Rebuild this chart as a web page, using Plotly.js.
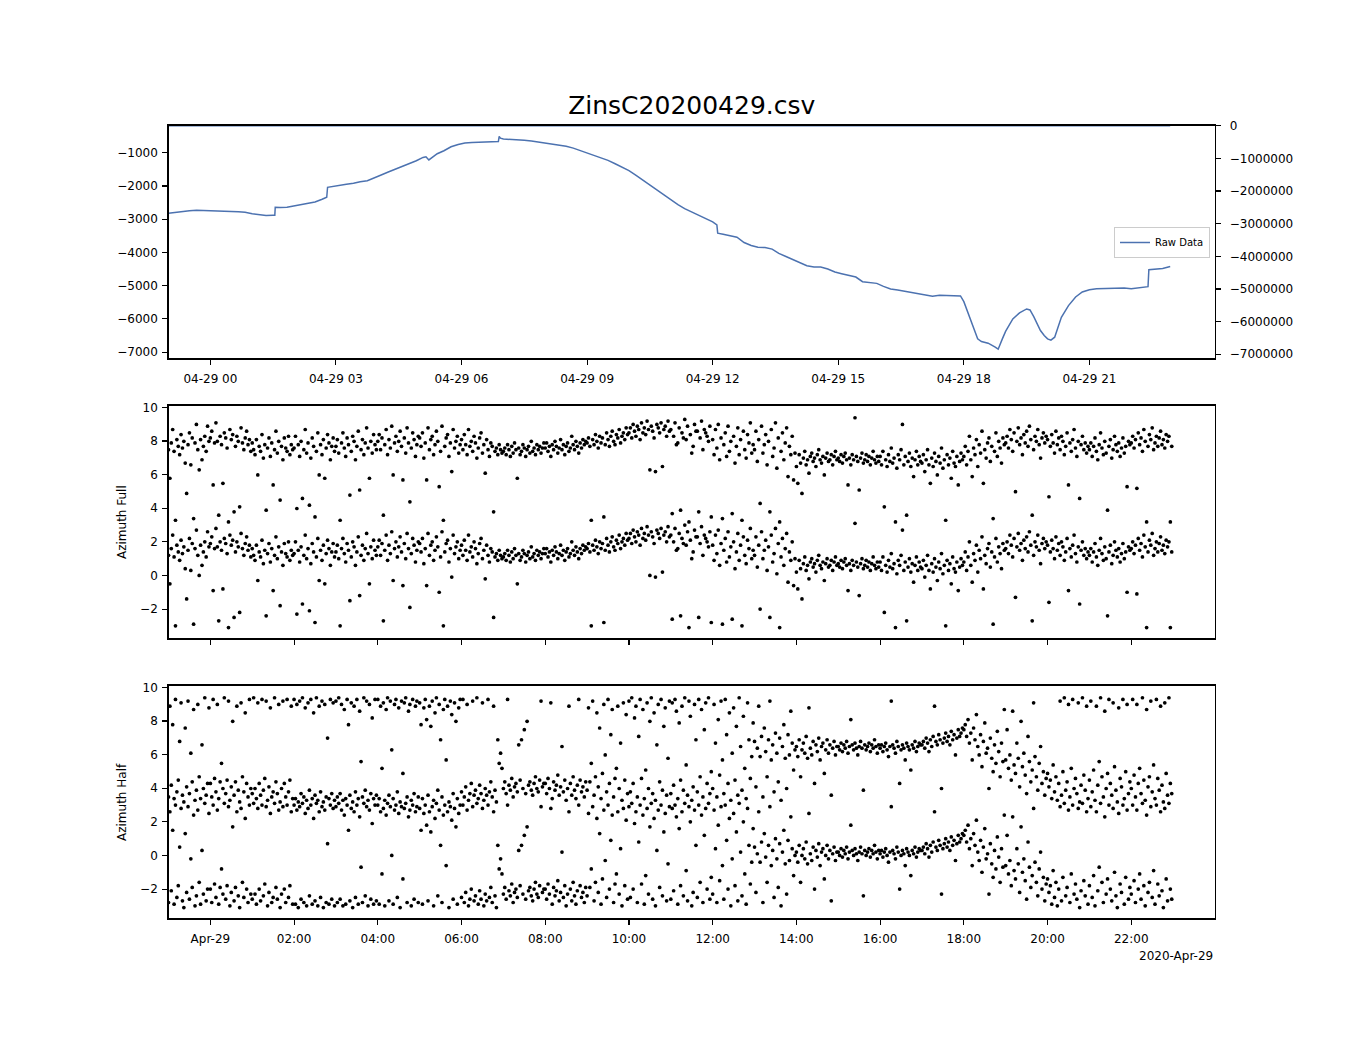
<!DOCTYPE html>
<html><head><meta charset="utf-8">
<script src="https://cdn.plot.ly/plotly-3.0.1.min.js"></script>
<style>html,body{margin:0;padding:0;background:#fff}#chart{width:1350px;height:1050px}</style>
</head><body><div id="chart"></div>
<script>
const titleText = 'ZinsC20200429.csv';
const legendName = 'Raw Data';
const yTitleFull = 'Azimuth Full';
const yTitleHalf = 'Azimuth Half';
const dateLabel = '2020-Apr-29';

// Raw data: hours relative to 2020-04-29 00:00, values (left axis)
const rawHours = [-1.00,-0.83,-0.67,-0.50,-0.33,-0.17,0.00,0.17,0.33,0.50,0.67,0.83,1.00,1.17,1.33,1.50,1.54,1.55,1.67,1.83,
2.00,2.17,2.33,2.50,2.67,2.78,2.80,2.92,3.08,3.25,3.42,3.58,3.75,3.92,4.08,4.25,4.42,4.58,4.75,4.92,
5.08,5.15,5.22,5.33,5.42,5.58,5.75,5.92,6.08,6.25,6.42,6.58,6.75,6.88,6.90,6.93,7.00,7.17,7.33,7.50,
7.67,7.83,8.00,8.17,8.33,8.50,8.67,8.83,9.00,9.17,9.33,9.50,9.67,9.83,10.00,10.17,10.33,10.50,10.67,10.83,
11.00,11.17,11.33,11.50,11.67,11.83,12.00,12.10,12.12,12.25,12.42,12.58,12.75,12.92,13.08,13.25,13.42,13.58,13.75,13.92,
14.08,14.25,14.42,14.58,14.75,14.92,15.08,15.25,15.42,15.58,15.75,15.92,16.08,16.25,16.42,16.58,16.75,16.92,17.08,17.25,
17.42,17.58,17.75,17.92,18.00,18.08,18.17,18.25,18.33,18.42,18.58,18.75,18.82,18.92,19.00,19.17,19.33,19.50,19.58,19.67,
19.75,19.83,19.92,20.00,20.08,20.17,20.25,20.33,20.50,20.67,20.83,21.00,21.17,21.33,21.50,21.67,21.83,22.00,22.17,22.33,
22.40,22.42,22.58,22.75,22.93];
const rawValues = [-2820,-2790,-2760,-2745,-2728,-2740,-2745,-2750,-2760,-2770,-2775,-2790,-2835,-2860,-2885,-2880,-2878,-2640,-2650,-2640,
-2600,-2550,-2530,-2480,-2400,-2340,-2040,-2010,-1990,-1950,-1920,-1870,-1840,-1740,-1670,-1580,-1495,-1420,-1340,-1240,
-1140,-1120,-1215,-1120,-1030,-940,-820,-750,-705,-690,-680,-672,-668,-665,-510,-560,-585,-595,-608,-625,
-648,-680,-700,-735,-770,-805,-860,-930,-1010,-1080,-1140,-1230,-1330,-1420,-1540,-1680,-1820,-1980,-2140,-2280,
-2420,-2560,-2680,-2780,-2880,-2990,-3080,-3170,-3420,-3450,-3500,-3540,-3700,-3790,-3845,-3850,-3900,-4030,-4120,-4220,
-4300,-4400,-4440,-4440,-4500,-4590,-4640,-4700,-4740,-4880,-4900,-4930,-5020,-5100,-5130,-5170,-5200,-5250,-5300,-5320,
-5290,-5290,-5290,-5310,-5480,-5750,-6050,-6350,-6600,-6680,-6730,-6850,-6910,-6600,-6370,-6000,-5820,-5700,-5730,-5930,
-6150,-6350,-6500,-6600,-6640,-6550,-6250,-5950,-5600,-5340,-5190,-5120,-5090,-5080,-5070,-5060,-5070,-5090,-5060,-5030,
-5030,-4520,-4510,-4480,-4420];

// Azimuth samples every 2 minutes starting 2020-04-28 23:00 (values in [-pi, pi])
const sampleStartHour = -1;
const sampleStepMinutes = 2;
const azFull = [
1.2,-0.5,1.6,2.4,1.1,-3.0,1.8,1.4,0.9,2.1,1.3,1.7,0.4,-1.4,1.5,2.2,0.3,1.9,-2.9,1.6,2.7,1.2,0.0,1.8,0.6,1.4,2.0,1.1,2.6,1.7,
1.9,2.3,-0.9,1.6,2.8,1.7,-2.7,2.0,1.5,-0.8,2.2,1.9,1.3,-3.1,2.4,1.8,2.1,-2.5,1.4,2.0,1.7,-2.2,2.5,1.6,1.2,1.9,2.3,1.5,1.8,1.1,
1.6,1.2,0.9,1.8,-0.3,1.4,1.1,2.1,0.7,1.5,-2.4,1.3,1.9,0.8,1.6,-0.9,1.2,2.3,1.0,1.7,-1.8,1.4,0.6,1.9,1.3,1.1,2.0,0.9,1.5,1.2,
1.3,2.0,-2.3,1.5,0.8,1.7,-1.7,1.2,2.4,1.0,1.6,-2.1,0.7,1.9,1.4,-2.8,1.1,2.2,-0.3,1.5,0.9,1.8,-0.5,1.3,2.1,1.6,0.6,1.4,1.9,1.1,
1.4,1.8,1.0,-3.0,1.6,2.2,1.3,0.8,1.9,1.5,-1.5,1.1,2.0,1.7,0.6,1.4,2.3,-1.2,1.2,1.8,0.9,1.6,2.5,1.3,-0.5,1.7,1.0,2.1,1.5,1.2,
1.7,2.1,1.2,1.9,-2.7,1.5,2.4,0.9,1.8,1.3,2.6,-0.3,1.6,2.0,1.1,1.7,2.3,1.4,-0.6,1.9,1.0,2.5,1.6,-1.9,1.3,2.2,1.8,0.8,1.5,2.0,
1.9,1.4,2.2,0.7,1.6,-0.6,2.5,1.2,1.8,2.0,0.9,1.5,2.3,1.7,-1.0,1.1,2.6,-3.0,1.4,1.9,2.1,0.8,1.6,-0.1,2.4,1.3,1.7,2.0,1.0,1.5,
1.8,1.2,2.1,1.5,0.9,2.4,1.4,1.7,1.1,2.0,1.6,0.7,1.3,1.9,2.2,1.0,1.5,-0.2,1.8,1.2,0.8,1.6,1.4,-2.5,1.1,1.3,0.9,1.5,1.2,1.0,
1.1,1.3,0.9,1.5,1.2,0.8,1.4,1.0,1.6,1.2,-0.5,1.3,0.9,1.1,1.5,1.3,0.8,1.2,1.4,1.0,1.7,1.1,1.3,0.9,1.5,1.2,1.4,1.0,1.3,1.6,
1.3,1.6,1.1,1.4,0.8,1.5,1.2,1.7,1.4,1.0,1.3,1.8,1.2,1.5,0.9,1.4,1.6,1.1,1.3,2.0,1.5,1.2,1.7,1.4,1.0,1.6,1.3,1.8,1.5,1.7,
1.6,1.9,1.4,-3.0,1.8,1.5,2.1,1.7,1.3,2.0,1.6,1.9,-2.8,1.5,2.2,1.8,1.4,2.0,2.3,1.7,1.5,2.1,1.9,2.4,1.6,2.0,2.2,1.8,2.5,2.1,
2.2,2.5,1.9,2.7,2.3,2.0,2.6,2.4,1.8,2.8,2.2,2.5,2.1,2.9,2.4,0.0,2.6,2.3,1.9,-0.1,2.7,2.5,2.2,2.8,0.2,2.4,2.6,2.0,2.9,2.3,
2.4,-2.6,2.0,2.8,1.5,1.6,2.5,-2.4,2.2,1.9,3.0,1.8,2.6,-3.1,2.1,1.0,1.4,2.7,2.3,2.3,-2.5,1.9,2.9,1.2,2.4,2.2,2.0,1.7,2.6,-2.8,
1.8,0.9,2.4,1.3,2.7,0.6,1.9,-2.9,1.5,2.2,0.8,2.6,1.1,1.7,-2.6,2.0,0.4,1.4,2.5,0.9,1.8,-3.0,2.3,1.2,0.7,2.1,1.6,2.8,1.0,1.5,
1.2,2.3,0.5,1.8,-2.0,2.6,1.0,1.5,2.1,0.3,1.7,-2.5,2.4,0.8,1.3,2.8,0.1,1.9,-3.1,1.1,2.2,0.6,1.6,2.5,-0.4,1.4,0.9,2.0,-0.6,1.0,
0.2,-0.8,0.9,0.4,-1.4,0.7,1.1,0.3,0.6,-0.2,0.8,1.0,0.5,0.7,0.2,0.9,1.2,0.6,0.4,0.8,-0.3,0.7,1.0,0.5,0.6,0.9,0.3,0.8,1.1,0.6,
0.7,0.5,0.9,0.4,0.8,1.0,0.6,-0.9,0.7,0.3,0.9,0.6,3.1,0.8,0.5,-1.2,0.7,1.0,0.4,0.6,0.9,0.5,0.8,0.3,0.7,1.1,0.6,0.4,0.8,0.5,
0.8,0.3,1.1,-2.2,0.6,0.2,0.9,0.5,1.3,0.4,0.7,-3.1,0.1,0.9,0.6,1.2,2.7,0.3,0.8,-2.7,0.5,1.0,0.2,0.7,-0.4,0.6,1.1,0.3,0.8,0.5,
0.4,0.9,-0.1,0.6,1.2,0.3,-0.8,0.7,0.2,1.0,0.5,-0.3,0.8,0.4,1.3,0.1,0.6,-3.0,0.9,0.3,0.7,-0.5,1.1,0.4,0.2,0.8,-0.9,0.5,1.0,0.6,
0.8,1.4,0.3,1.1,2.0,0.6,-0.4,1.3,0.9,1.8,0.2,1.5,1.0,2.3,-0.8,1.2,0.7,1.6,1.9,0.5,1.4,-2.9,1.1,2.2,0.8,1.7,1.3,0.4,1.9,1.5,
1.6,2.0,1.3,2.4,1.8,1.1,2.2,-1.3,1.7,2.5,1.5,1.9,0.9,2.1,1.6,2.3,1.4,2.6,1.8,-2.7,1.2,2.0,1.7,2.4,1.5,0.7,1.9,2.2,1.6,2.0,
1.8,-1.6,1.4,2.1,1.6,1.0,2.3,1.5,1.9,1.2,2.0,1.7,0.9,1.4,2.2,-0.9,1.6,1.1,1.8,2.4,1.3,0.8,1.7,-1.7,1.5,2.0,1.2,1.6,1.0,1.4,
1.2,1.6,0.8,1.4,1.9,1.1,0.6,1.5,2.2,1.3,0.9,1.7,1.0,-2.4,1.4,1.8,0.7,1.2,2.0,1.5,1.1,1.6,0.8,1.3,1.9,1.0,1.4,-1.0,1.7,1.5,
1.6,2.0,1.3,1.8,-1.1,2.2,1.5,1.9,1.1,2.4,1.7,-3.1,1.4,2.1,1.8,2.5,1.2,1.6,2.0,1.4,1.9,2.3,1.5,1.8,1.3,2.1,1.7,2.0,-3.1,1.4];
const azHalf = [
-2.8,2.6,-2.1,1.5,-2.9,3.0,-2.5,-1.8,0.5,2.8,-2.7,-3.1,1.3,-2.2,2.9,-2.6,-0.2,-1.9,2.4,-3.0,-2.4,2.7,-1.6,-2.9,0.3,-2.3,3.1,-2.7,-2.0,2.5,
-2.0,-2.8,3.0,-1.7,-2.5,2.7,-2.9,-1.9,-0.8,-2.3,3.1,-2.6,-1.8,2.9,-3.0,-2.2,1.7,-2.7,-1.9,2.6,-2.4,-3.1,2.8,-1.6,-2.5,2.2,-2.0,-2.8,3.0,-2.3,
-2.6,3.1,-2.3,-2.9,2.8,-2.0,-2.7,3.0,-2.4,-1.7,2.9,-3.0,-2.2,2.5,-2.8,-2.5,3.1,-1.9,-2.6,2.7,-3.1,-2.3,2.9,-2.0,-2.8,3.0,-2.5,-1.8,2.6,-2.9,
3.0,-2.9,2.7,-3.1,2.9,-2.6,3.1,-2.8,2.5,-3.0,2.8,-2.4,3.0,-2.9,2.2,-2.7,3.1,-3.0,2.6,-2.5,2.9,-3.1,2.7,-2.8,0.7,-2.9,3.0,-2.6,2.8,-3.0,
2.9,-2.8,3.1,-2.6,2.7,-3.0,2.4,-2.9,3.0,1.5,-2.7,2.8,-3.1,2.6,-2.5,3.0,-2.9,2.3,-0.7,-2.8,3.1,-2.4,2.9,-3.0,2.7,-2.6,1.9,-2.9,3.0,-2.7,
3.0,-2.9,2.6,-1.1,2.8,-3.0,2.4,3.1,-2.7,2.9,0.0,-2.9,2.7,3.0,-2.5,2.5,-3.1,2.9,-1.4,2.8,3.1,-2.8,2.3,2.7,-3.0,3.0,-2.6,2.6,2.9,-2.8,
2.8,1.5,-2.9,2.5,3.0,1.8,-2.7,2.6,1.4,2.9,-3.0,2.2,3.1,-2.4,2.7,0.6,-2.8,2.4,3.0,-0.6,2.6,-3.1,2.9,2.1,-2.6,2.8,1.7,-2.9,2.5,3.0,
-2.5,3.0,-2.8,-2.2,2.7,-3.0,-2.6,-2.0,2.9,-2.7,-2.4,3.1,-2.9,-2.1,-2.6,2.8,-3.0,-2.3,-2.7,3.0,-2.5,-1.9,-2.8,2.6,-2.4,-3.1,0.6,-0.8,-0.2,-1.1,
-2.3,-1.9,-2.6,3.0,-2.1,-2.4,-1.7,-2.8,-2.2,-2.0,-2.5,0.3,-1.8,0.6,-2.3,1.2,-2.6,1.7,-2.1,-1.9,-2.4,-2.7,-2.0,-1.6,-2.3,-2.5,-1.8,2.9,-2.2,-2.0,
-2.0,-2.6,-1.7,-2.3,2.8,-2.9,-1.9,-2.4,-2.1,-1.5,-2.7,-2.2,0.2,-2.5,-1.8,-3.0,-2.3,2.6,-2.0,-2.7,-1.6,-2.4,-2.9,-2.1,3.0,-1.8,-2.5,-2.2,-2.8,-1.9,
-2.4,2.5,-1.9,-0.8,2.9,-2.7,-1.6,2.2,-2.2,1.3,-2.9,-1.4,2.7,-0.3,-2.5,3.0,-2.0,0.9,2.4,-2.8,-1.7,-1.1,2.6,-2.3,0.4,-3.0,2.8,-1.8,2.1,-2.6,
2.9,-2.5,3.1,-2.0,1.9,2.6,-2.8,0.8,3.0,-1.7,2.4,-2.9,-1.2,2.8,-2.3,1.7,3.1,-2.6,2.2,-3.0,0.3,2.7,-1.9,3.0,-2.4,1.4,2.5,-2.7,-0.5,2.9,
-2.6,2.8,-2.1,3.0,2.3,-2.9,1.6,-1.8,2.6,-2.4,3.1,-0.9,-2.7,2.9,2.0,-3.0,-2.2,2.7,0.6,-2.5,3.0,-1.6,2.4,-2.8,1.2,2.8,-2.0,3.1,-2.6,-1.3,
-2.3,2.7,0.4,-2.8,1.8,-1.5,2.9,-0.6,-2.6,3.0,0.9,-2.0,2.2,-3.0,-0.2,2.5,-1.8,1.4,-2.7,3.1,0.2,-2.4,2.0,-1.1,-2.9,2.8,0.6,-1.7,-0.4,1.6,
0.5,-2.2,0.1,2.6,-0.4,0.8,-2.8,1.3,-0.1,-1.6,0.6,2.9,-0.6,0.3,-2.5,1.0,-0.2,-1.9,0.7,-3.0,0.2,1.5,-0.5,-2.3,0.9,-0.3,2.3,0.4,-1.2,0.0,
0.2,-0.4,0.6,-1.6,0.0,0.4,-0.2,0.8,-0.5,2.5,0.1,-0.3,0.5,-2.0,0.3,-0.1,0.7,-0.6,0.2,0.4,-1.4,0.0,0.6,-0.2,0.3,-2.7,0.1,0.5,-0.3,0.2,
0.2,0.0,0.4,-0.1,0.3,0.1,0.5,-0.2,0.2,1.8,0.3,0.0,0.4,0.1,-0.3,0.2,0.5,0.1,-2.4,0.3,0.0,0.2,0.4,-0.1,0.3,0.1,0.6,0.2,-0.2,0.3,
0.1,0.3,-0.1,0.2,0.4,0.0,-0.4,0.2,2.9,0.3,0.1,-0.2,0.5,0.2,-2.0,0.0,0.3,0.1,-0.6,0.4,0.2,0.0,-1.2,0.3,0.1,0.5,-0.1,0.2,0.4,0.3,
0.3,0.5,0.1,0.7,0.4,-0.1,0.6,0.2,0.8,2.6,0.5,0.3,0.9,0.6,-2.3,0.4,0.7,1.0,0.5,0.8,0.3,1.1,0.6,0.9,-0.3,0.7,1.2,0.8,1.0,1.3,
1.2,1.5,0.8,1.8,0.4,1.0,-0.6,1.3,0.6,2.1,0.2,-0.3,0.9,-1.0,0.5,1.6,-0.2,0.1,-2.3,0.7,-0.5,-1.3,0.3,-0.8,1.1,-0.1,-1.6,0.4,-0.7,2.4,
-0.6,1.2,-1.1,-0.3,-1.8,2.3,-0.9,-1.4,0.4,-0.5,-2.2,1.7,-1.0,-0.2,-1.5,-2.6,0.8,-0.7,-1.9,-1.2,2.8,-0.4,-1.6,-2.4,-0.8,0.2,-2.0,-1.3,-2.7,-1.7,
-1.4,-2.2,-1.8,-2.9,-0.9,-2.5,-1.6,-3.0,-2.0,2.9,-2.7,-1.3,3.1,-2.4,-1.9,2.7,-2.8,-1.1,3.0,-2.3,-1.7,-2.6,2.8,-3.1,-2.1,3.1,-1.5,-2.4,2.6,-2.9,
-1.8,2.9,-2.5,-1.2,-3.0,2.6,-2.1,-0.7,3.1,-1.6,-2.8,2.3,-2.3,-1.4,3.0,-2.0,-2.7,2.8,-1.0,-2.4,-3.1,2.5,-1.7,-2.2,3.0,-2.9,-1.3,2.7,-2.6,-1.9,
-2.3,3.0,-1.5,-2.8,2.7,-2.0,-1.1,-2.6,3.1,-1.8,-3.0,2.4,-2.2,-1.6,2.9,-2.5,-0.9,-2.9,3.0,-1.7,-2.4,2.6,-2.1,-3.1,2.8,-1.4,-2.7,3.1,-2.0,-2.6];

const topTickHours = [0,3,6,9,12,15,18,21];
const topTickLabels = ['04-29 00','04-29 03','04-29 06','04-29 09','04-29 12','04-29 15','04-29 18','04-29 21'];
const bottomTickHours = [0,2,4,6,8,10,12,14,16,18,20,22];
const bottomTickLabels = ['Apr-29','02:00','04:00','06:00','08:00','10:00','12:00','14:00','16:00','18:00','20:00','22:00'];
const leftTicks = [-7000,-6000,-5000,-4000,-3000,-2000,-1000];
const rightTicks = [0,-1000000,-2000000,-3000000,-4000000,-5000000,-6000000,-7000000];
const azTicks = [-2,0,2,4,6,8,10];

const TWO_PI = 2*Math.PI;
function hourToDate(h){
  const d = new Date(Date.UTC(2020,3,29) + Math.round(h*3600000));
  return d.toISOString().slice(0,19).replace('T',' ');
}
const fmt = v => String(v).replace('-', '\u2212');

const rawX = rawHours.map(hourToDate);
const sampleX = azFull.map((_, i) => hourToDate(sampleStartHour + i*sampleStepMinutes/60));
const sampleXh = azHalf.map((_, i) => hourToDate(sampleStartHour + i*sampleStepMinutes/60));

const lineColor = '#4c72b0';
const traces = [
  {x: rawX, y: rawValues, xaxis:'x', yaxis:'y2', type:'scatter', mode:'lines',
   line:{color:lineColor, width:1.5}, showlegend:false, hoverinfo:'skip'},
  {x: rawX, y: rawValues, xaxis:'x', yaxis:'y', type:'scatter', mode:'lines', name: legendName,
   line:{color:lineColor, width:1.5}},
  {x: sampleX.concat(sampleX), y: azFull.concat(azFull.map(v => v + TWO_PI)), xaxis:'x2', yaxis:'y3',
   type:'scatter', mode:'markers', marker:{color:'#000', size:3.7}, showlegend:false},
  {x: sampleXh.concat(sampleXh), y: azHalf.concat(azHalf.map(v => v + TWO_PI)), xaxis:'x3', yaxis:'y4',
   type:'scatter', mode:'markers', marker:{color:'#000', size:3.7}, showlegend:false}
];

const font = {family:'DejaVu Sans, sans-serif', size:12, color:'#000'};
const xRange = [hourToDate(-1), hourToDate(24)];
const base = {showline:true, linecolor:'#000', linewidth:1.3, mirror:true, ticks:'outside', ticklen:5,
  tickwidth:1.1, tickcolor:'#000', showgrid:false, zeroline:false, tickfont:font, tickmode:'array', fixedrange:true};
const xDom = [168.5/1350, 1215/1350];
const dTop = [1-358.3/1050, 1-125.7/1050];
const dMid = [1-638.3/1050, 1-405.7/1050];
const dBot = [1-918.3/1050, 1-685.7/1050];
const azRange = [-3.74, 10.1];

const layout = {
  width:1350, height:1050, margin:{l:0,r:0,t:0,b:0}, paper_bgcolor:'#fff', plot_bgcolor:'#fff',
  font: font,
  title:{text:titleText, font:{family:'DejaVu Sans, sans-serif', size:25, color:'#000'},
    x:(xDom[0]+xDom[1])/2, xanchor:'center', y:1-105/1050, yanchor:'middle'},
  xaxis:Object.assign({}, base, {domain:xDom, anchor:'y', type:'date', range:xRange, ticklabelstandoff:4,
    tickvals: topTickHours.map(hourToDate), ticktext: topTickLabels}),
  yaxis:Object.assign({}, base, {domain:dTop, anchor:'x', range:[-7185,-186], ticklabelstandoff:2,
    tickvals:leftTicks, ticktext:leftTicks.map(fmt)}),
  yaxis2:Object.assign({}, base, {overlaying:'y', side:'right', anchor:'x', mirror:false, range:[-7123000,0],
    ticklabelstandoff:6, tickvals:rightTicks, ticktext:rightTicks.map(fmt)}),
  xaxis2:Object.assign({}, base, {domain:xDom, anchor:'y3', type:'date', range:xRange,
    tickvals: bottomTickHours.map(hourToDate), ticktext: bottomTickLabels, showticklabels:false}),
  yaxis3:Object.assign({}, base, {domain:dMid, anchor:'x2', range:azRange, ticklabelstandoff:2,
    tickvals:azTicks, ticktext:azTicks.map(fmt)}),
  xaxis3:Object.assign({}, base, {domain:xDom, anchor:'y4', type:'date', range:xRange, ticklabelstandoff:4,
    tickvals: bottomTickHours.map(hourToDate), ticktext: bottomTickLabels}),
  yaxis4:Object.assign({}, base, {domain:dBot, anchor:'x3', range:azRange, ticklabelstandoff:2,
    tickvals:azTicks, ticktext:azTicks.map(fmt)}),
  showlegend:true,
  legend:{x:1210/1350, xanchor:'right', y:1-242.5/1050, yanchor:'middle', bgcolor:'#fff',
    bordercolor:'#cccccc', borderwidth:1, itemwidth:30, tracegroupgap:0,
    font:{family:'DejaVu Sans, sans-serif', size:10, color:'#000'}},
  annotations:[
    {text:yTitleFull, xref:'paper', yref:'paper', x:122/1350, y:(dMid[0]+dMid[1])/2, textangle:-90,
     showarrow:false, font:font, xanchor:'center', yanchor:'middle'},
    {text:yTitleHalf, xref:'paper', yref:'paper', x:122/1350, y:(dBot[0]+dBot[1])/2, textangle:-90,
     showarrow:false, font:font, xanchor:'center', yanchor:'middle'},
    {text:dateLabel, xref:'paper', yref:'paper', x:1215/1350, y:1-956/1050, xanchor:'right', yanchor:'middle',
     showarrow:false, font:font}
  ]
};
Plotly.newPlot('chart', traces, layout, {displayModeBar:false, staticPlot:true});
</script>
</body></html>
